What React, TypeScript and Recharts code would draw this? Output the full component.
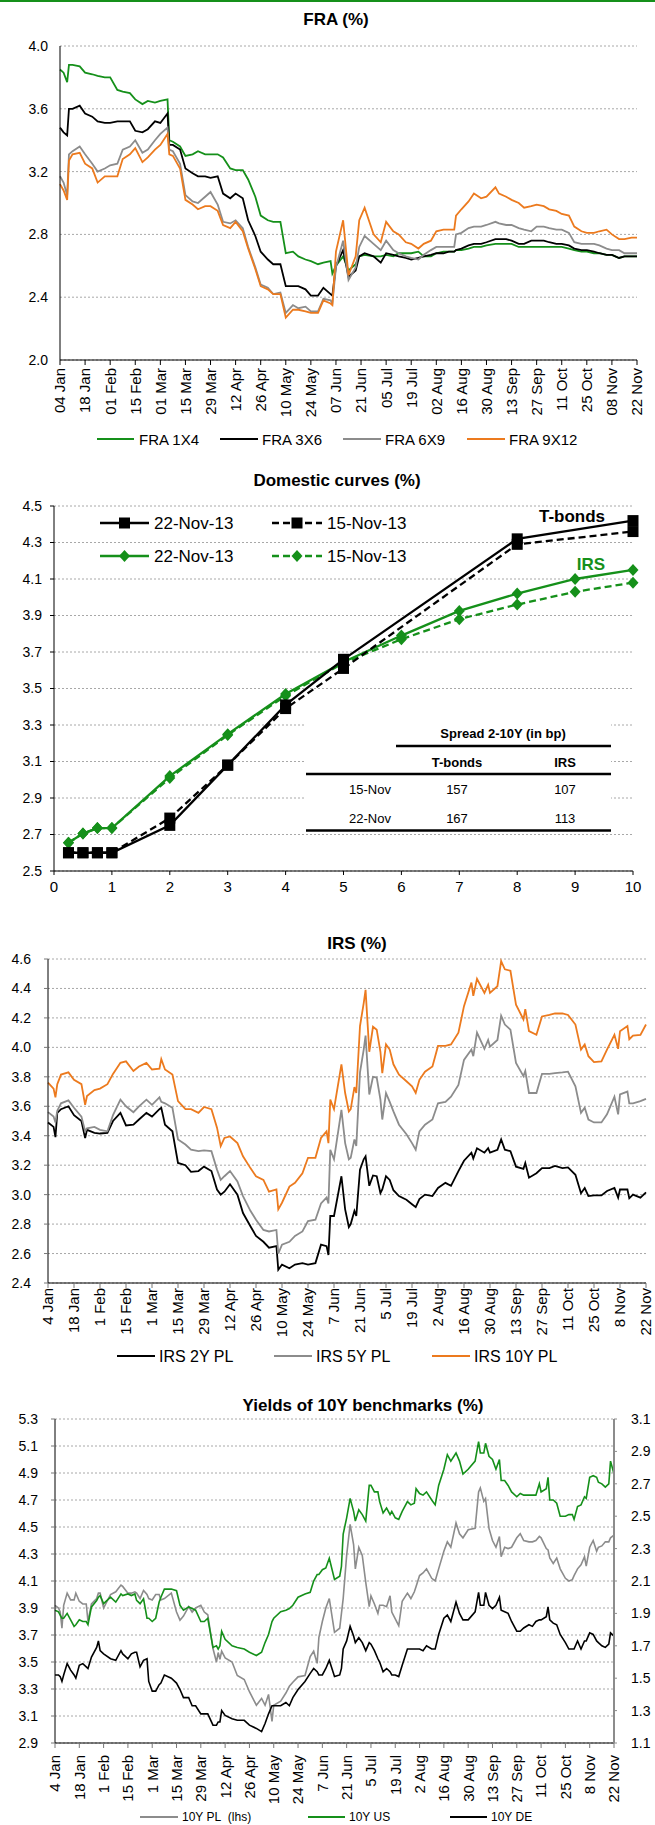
import React from "react";
import { LineChart, Line, XAxis, YAxis, CartesianGrid } from "recharts";

const FONT = "'Liberation Sans', Arial, Helvetica, sans-serif";
const GREEN = "#15901a";
const ORANGE = "#ec7a1e";
const GREY = "#8c8c8c";
const BLACK = "#000000";
const GRID = "#a8a8a8";

// date labels, one every 14 days from 4 Jan 2013 (day 0) to 22 Nov (day 322)
const fraDateLabels = ["04 Jan", "18 Jan", "01 Feb", "15 Feb", "01 Mar", "15 Mar", "29 Mar", "12 Apr", "26 Apr", "10 May", "24 May", "07 Jun",
  "21 Jun", "05 Jul", "19 Jul", "02 Aug", "16 Aug", "30 Aug", "13 Sep", "27 Sep", "11 Oct", "25 Oct", "08 Nov", "22 Nov"];
const dateLabels = ["4 Jan", "18 Jan", "1 Feb", "15 Feb", "1 Mar", "15 Mar", "29 Mar", "12 Apr", "26 Apr", "10 May", "24 May", "7 Jun",
  "21 Jun", "5 Jul", "19 Jul", "2 Aug", "16 Aug", "30 Aug", "13 Sep", "27 Sep", "11 Oct", "25 Oct", "8 Nov", "22 Nov"];
const dateTicks = dateLabels.map((_, i) => i * 14);

// ---- FRA (%) ----
const fraTicks = [2.0, 2.4, 2.8, 3.2, 3.6, 4.0];
const fraDays = [
  0, 2, 4, 5, 7, 11, 14, 18, 21, 25,
  28, 32, 35, 39, 42, 46, 49, 53, 56, 60,
  61, 63, 67, 70, 74, 77, 81, 84, 88, 91,
  95, 98, 102, 105, 109, 112, 116, 119, 123, 126,
  130, 133, 137, 140, 144, 147, 151, 152, 154, 158,
  161, 165, 167, 170, 175, 179, 182, 186, 189, 193,
  196, 200, 203, 207, 210, 214, 217, 220, 221, 224,
  228, 231, 235, 238, 243, 245, 249, 252, 256, 259,
  263, 266, 270, 273, 277, 280, 284, 287, 291, 294,
  298, 301, 305, 308, 312, 315, 319, 322];
const fra1x4 = [
  3.85, 3.83, 3.77, 3.88, 3.88, 3.87, 3.83, 3.82, 3.81, 3.80,
  3.80, 3.72, 3.71, 3.70, 3.66, 3.63, 3.65, 3.64, 3.65, 3.66,
  3.40, 3.39, 3.36, 3.30, 3.31, 3.33, 3.31, 3.31, 3.31, 3.29,
  3.22, 3.21, 3.21, 3.15, 3.04, 2.92, 2.89, 2.88, 2.88, 2.68,
  2.69, 2.66, 2.64, 2.63, 2.61, 2.62, 2.63, 2.55, 2.60, 2.66,
  2.57, 2.61, 2.66, 2.67, 2.66, 2.66, 2.67, 2.66, 2.68, 2.68,
  2.68, 2.69, 2.66, 2.66, 2.68, 2.69, 2.69, 2.69, 2.70, 2.70,
  2.71, 2.72, 2.72, 2.73, 2.74, 2.74, 2.74, 2.74, 2.72, 2.72,
  2.72, 2.72, 2.72, 2.72, 2.72, 2.72, 2.71, 2.70, 2.69, 2.69,
  2.68, 2.68, 2.67, 2.67, 2.65, 2.66, 2.66, 2.66];
const fra3x6 = [
  3.48, 3.45, 3.43, 3.60, 3.60, 3.62, 3.57, 3.55, 3.52, 3.51,
  3.51, 3.52, 3.52, 3.52, 3.46, 3.45, 3.47, 3.52, 3.51, 3.57,
  3.37, 3.37, 3.34, 3.22, 3.19, 3.17, 3.17, 3.16, 3.17, 3.06,
  3.03, 3.06, 3.03, 2.89, 2.79, 2.69, 2.64, 2.61, 2.61, 2.47,
  2.47, 2.47, 2.45, 2.41, 2.41, 2.46, 2.42, 2.41, 2.60, 2.70,
  2.53, 2.57, 2.66, 2.68, 2.66, 2.62, 2.68, 2.67, 2.66, 2.65,
  2.64, 2.65, 2.66, 2.67, 2.68, 2.68, 2.69, 2.69, 2.70, 2.71,
  2.73, 2.74, 2.74, 2.75, 2.77, 2.77, 2.77, 2.76, 2.74, 2.74,
  2.76, 2.76, 2.76, 2.75, 2.74, 2.74, 2.73, 2.71, 2.70, 2.70,
  2.69, 2.68, 2.67, 2.67, 2.65, 2.66, 2.66, 2.66];
const fra6x9 = [
  3.17, 3.13, 3.05, 3.31, 3.33, 3.36, 3.31, 3.25, 3.20, 3.22,
  3.24, 3.25, 3.34, 3.36, 3.40, 3.32, 3.34, 3.40, 3.44, 3.48,
  3.34, 3.33, 3.25, 3.05, 3.01, 3.00, 3.04, 3.07, 2.99, 2.88,
  2.87, 2.89, 2.84, 2.72, 2.59, 2.48, 2.46, 2.42, 2.43, 2.30,
  2.35, 2.33, 2.34, 2.31, 2.31, 2.39, 2.38, 2.36, 2.59, 2.76,
  2.51, 2.59, 2.72, 2.79, 2.74, 2.70, 2.76, 2.70, 2.68, 2.66,
  2.65, 2.64, 2.67, 2.70, 2.72, 2.72, 2.72, 2.72, 2.80, 2.81,
  2.84, 2.85, 2.85, 2.86, 2.88, 2.87, 2.86, 2.86, 2.84, 2.83,
  2.82, 2.85, 2.85, 2.84, 2.83, 2.83, 2.81, 2.75, 2.74, 2.74,
  2.74, 2.73, 2.71, 2.70, 2.70, 2.68, 2.68, 2.68];
const fra9x12 = [
  3.12, 3.08, 3.02, 3.27, 3.31, 3.32, 3.25, 3.22, 3.13, 3.17,
  3.17, 3.17, 3.28, 3.31, 3.35, 3.26, 3.29, 3.34, 3.37, 3.44,
  3.31, 3.30, 3.22, 3.02, 2.99, 2.96, 2.98, 2.98, 2.95, 2.86,
  2.84, 2.88, 2.82, 2.71, 2.58, 2.47, 2.45, 2.42, 2.42, 2.27,
  2.32, 2.32, 2.31, 2.30, 2.30, 2.38, 2.36, 2.35, 2.69, 2.89,
  2.54, 2.66, 2.89, 2.97, 2.80, 2.75, 2.88, 2.82, 2.80, 2.75,
  2.74, 2.71, 2.74, 2.76, 2.82, 2.83, 2.83, 2.83, 2.92, 2.96,
  3.01, 3.06, 3.03, 3.04, 3.10, 3.06, 3.04, 3.02, 3.00, 2.97,
  2.98, 2.99, 2.98, 2.96, 2.95, 2.93, 2.92, 2.85, 2.82, 2.81,
  2.81, 2.82, 2.83, 2.80, 2.77, 2.77, 2.78, 2.78];

// ---- Domestic curves (%) ----
const curveXTicks = [0, 1, 2, 3, 4, 5, 6, 7, 8, 9, 10];
const curveYTicks = [2.5, 2.7, 2.9, 3.1, 3.3, 3.5, 3.7, 3.9, 4.1, 4.3, 4.5];
const bondTenors = [0.25, 0.5, 0.75, 1, 2, 3, 4, 5, 8, 10];
const bonds22Nov = [2.60, 2.60, 2.60, 2.60, 2.75, 3.08, 3.41, 3.66, 4.32, 4.42];
const bonds15Nov = [2.60, 2.60, 2.60, 2.60, 2.79, 3.08, 3.39, 3.61, 4.29, 4.36];
const irsTenors = [0.25, 0.5, 0.75, 1, 2, 3, 4, 5, 6, 7, 8, 9, 10];
const irs22Nov = [2.655, 2.705, 2.735, 2.735, 3.02, 3.25, 3.47, 3.645, 3.79, 3.925, 4.02, 4.10, 4.15];
const irs15Nov = [2.655, 2.705, 2.735, 2.735, 3.01, 3.245, 3.46, 3.64, 3.77, 3.88, 3.96, 4.03, 4.08];
const spreadDates = ["15-Nov", "22-Nov"];
const spreadBonds = [157, 167];
const spreadIrs = [107, 113];

// ---- IRS (%) ----
const irsTicks = [2.4, 2.6, 2.8, 3.0, 3.2, 3.4, 3.6, 3.8, 4.0, 4.2, 4.4, 4.6];
const irsDays = [
  0, 3, 4, 5, 7, 11, 14, 18, 20, 21,
  25, 28, 32, 35, 39, 42, 46, 49, 53, 56,
  60, 61, 63, 67, 70, 74, 77, 81, 84, 88,
  91, 93, 95, 98, 102, 105, 109, 112, 116, 119,
  123, 124, 126, 130, 133, 137, 140, 144, 147, 150,
  151, 152, 154, 158, 160, 162, 163, 165, 166, 168,
  170, 171, 173, 175, 177, 179, 180, 182, 184, 186,
  189, 193, 196, 198, 200, 203, 207, 210, 214, 217,
  221, 224, 228, 229, 231, 235, 237, 238, 242, 244,
  246, 249, 252, 256, 257, 259, 263, 266, 270, 273,
  277, 280, 284, 287, 289, 291, 294, 298, 301, 305,
  307, 308, 312, 313, 315, 319, 322];
const irs10y = [
  3.76, 3.72, 3.66, 3.75, 3.815, 3.83, 3.78, 3.75, 3.61, 3.67,
  3.71, 3.72, 3.75, 3.82, 3.895, 3.905, 3.84, 3.87, 3.895, 3.85,
  3.855, 3.92, 3.85, 3.815, 3.635, 3.58, 3.58, 3.555, 3.595, 3.58,
  3.455, 3.33, 3.385, 3.395, 3.35, 3.26, 3.18, 3.125, 3.10, 3.02,
  3.035, 2.90, 2.945, 3.055, 3.08, 3.145, 3.25, 3.25, 3.385, 3.43,
  3.35, 3.645, 3.58, 3.885, 3.69, 3.565, 3.58, 3.73, 3.69, 4.145,
  4.30, 4.39, 3.97, 4.14, 4.12, 3.97, 3.825, 4.02, 3.985, 3.885,
  3.815, 3.77, 3.735, 3.69, 3.78, 3.835, 3.87, 4.01, 4.01, 4.02,
  4.10, 4.28, 4.44, 4.35, 4.465, 4.37, 4.425, 4.37, 4.415, 4.585,
  4.53, 4.52, 4.29, 4.19, 4.26, 4.11, 4.085, 4.21, 4.22, 4.23,
  4.23, 4.22, 4.155, 3.985, 4.02, 3.94, 3.90, 3.905, 3.985, 4.085,
  3.99, 4.11, 4.145, 4.055, 4.08, 4.085, 4.155];
const irs5y = [
  3.56, 3.53, 3.49, 3.57, 3.62, 3.64, 3.59, 3.53, 3.43, 3.45,
  3.46, 3.44, 3.43, 3.54, 3.645, 3.60, 3.56, 3.60, 3.645, 3.61,
  3.66, 3.63, 3.62, 3.59, 3.375, 3.34, 3.305, 3.295, 3.30, 3.295,
  3.17, 3.10, 3.125, 3.16, 3.09, 2.99, 2.89, 2.83, 2.76, 2.75,
  2.76, 2.60, 2.66, 2.68, 2.72, 2.75, 2.82, 2.83, 2.94, 2.98,
  2.94, 3.305, 3.24, 3.575, 3.35, 3.24, 3.25, 3.375, 3.33, 3.83,
  3.985, 4.08, 3.68, 3.80, 3.795, 3.645, 3.51, 3.69, 3.63, 3.565,
  3.475, 3.41, 3.35, 3.305, 3.43, 3.475, 3.51, 3.62, 3.63, 3.665,
  3.745, 3.915, 3.985, 3.94, 4.10, 3.99, 4.05, 4.005, 4.05, 4.215,
  4.155, 4.12, 3.895, 3.805, 3.84, 3.69, 3.69, 3.82, 3.82, 3.825,
  3.83, 3.835, 3.735, 3.555, 3.59, 3.51, 3.49, 3.49, 3.545, 3.665,
  3.545, 3.68, 3.70, 3.62, 3.62, 3.635, 3.65];
const irs2y = [
  3.49, 3.46, 3.39, 3.555, 3.58, 3.60, 3.54, 3.50, 3.385, 3.44,
  3.42, 3.415, 3.42, 3.50, 3.555, 3.47, 3.475, 3.51, 3.555, 3.53,
  3.58, 3.59, 3.475, 3.43, 3.215, 3.20, 3.155, 3.16, 3.19, 3.16,
  3.035, 3.00, 3.02, 3.07, 3.00, 2.875, 2.785, 2.72, 2.68, 2.64,
  2.65, 2.49, 2.525, 2.50, 2.525, 2.535, 2.525, 2.535, 2.66, 2.65,
  2.59, 2.855, 2.855, 3.125, 2.90, 2.78, 2.80, 2.89, 2.855, 3.17,
  3.24, 3.26, 3.06, 3.13, 3.125, 3.01, 3.035, 3.125, 3.10, 3.03,
  2.99, 2.965, 2.935, 2.915, 2.97, 3.00, 2.99, 3.045, 3.08, 3.06,
  3.16, 3.23, 3.285, 3.245, 3.315, 3.285, 3.315, 3.285, 3.305, 3.375,
  3.305, 3.295, 3.19, 3.175, 3.215, 3.115, 3.145, 3.18, 3.18, 3.195,
  3.18, 3.185, 3.135, 3.01, 3.045, 2.99, 2.995, 2.995, 3.025, 3.045,
  2.98, 3.035, 3.035, 2.975, 3.00, 2.98, 3.015];

// ---- Yields of 10Y benchmarks (%) ----
const yldLeftTicks = [2.9, 3.1, 3.3, 3.5, 3.7, 3.9, 4.1, 4.3, 4.5, 4.7, 4.9, 5.1, 5.3];
const yldRightTicks = [1.1, 1.3, 1.5, 1.7, 1.9, 2.1, 2.3, 2.5, 2.7, 2.9, 3.1];
const yldDays = [
  0, 2, 3, 4, 5, 7, 9, 11, 12, 14,
  16, 18, 19, 21, 24, 25, 26, 28, 32, 35,
  38, 39, 42, 44, 46, 47, 49, 51, 53, 54,
  56, 58, 60, 61, 63, 67, 70, 72, 74, 77,
  79, 81, 84, 86, 88, 91, 93, 94, 95, 96,
  98, 102, 105, 109, 112, 116, 119, 121, 123, 125,
  126, 130, 133, 135, 137, 140, 144, 147, 149, 151,
  152, 154, 156, 158, 161, 164, 165, 166, 168, 170,
  172, 173, 175, 177, 179, 181, 182, 184, 186, 187,
  189, 191, 193, 194, 196, 198, 200, 203, 205, 207,
  208, 210, 212, 214, 217, 219, 221, 224, 226, 228,
  231, 233, 235, 238, 242, 244, 245, 247, 248, 250,
  252, 254, 256, 257, 259, 261, 263, 266, 268, 270,
  273, 275, 277, 279, 280, 283, 284, 285, 287, 289,
  291, 294, 296, 298, 299, 301, 303, 305, 306, 308,
  310, 312, 313, 315, 317, 319, 320, 322];
const pl10y = [
  3.92, 3.90, 3.87, 3.75, 3.92, 4.01, 3.96, 3.96, 4.01, 3.95,
  3.93, 3.93, 3.80, 3.93, 3.97, 4.01, 4.01, 3.90, 4.00, 4.02,
  4.07, 4.06, 4.01, 4.01, 4.02, 4.01, 3.97, 4.03, 4.00, 3.97,
  3.96, 4.00, 4.00, 3.96, 3.97, 4.01, 3.87, 3.81, 3.84, 3.91,
  3.87, 3.90, 3.92, 3.87, 3.85, 3.60, 3.50, 3.57, 3.52, 3.58,
  3.53, 3.50, 3.40, 3.37, 3.28, 3.18, 3.23, 3.18, 3.26, 3.06,
  3.18, 3.21, 3.27, 3.32, 3.35, 3.39, 3.40, 3.54, 3.58, 3.49,
  3.68, 3.80, 3.90, 3.97, 3.72, 3.75, 3.86, 3.97, 4.29, 4.52,
  4.37, 4.19, 4.35, 4.29, 4.09, 3.91, 3.99, 3.93, 3.86, 3.92,
  3.92, 3.91, 3.99, 3.87, 3.82, 3.77, 3.95, 4.01, 3.97, 4.02,
  4.06, 4.14, 4.16, 4.19, 4.12, 4.10, 4.19, 4.32, 4.39, 4.35,
  4.53, 4.45, 4.42, 4.48, 4.49, 4.76, 4.79, 4.69, 4.71, 4.49,
  4.40, 4.35, 4.43, 4.28, 4.35, 4.34, 4.35, 4.42, 4.45, 4.40,
  4.39, 4.39, 4.40, 4.43, 4.42, 4.34, 4.33, 4.27, 4.23, 4.27,
  4.19, 4.12, 4.10, 4.11, 4.14, 4.19, 4.22, 4.28, 4.21, 4.35,
  4.40, 4.32, 4.35, 4.36, 4.39, 4.39, 4.42, 4.44];
const us10y = [
  1.92, 1.91, 1.89, 1.87, 1.87, 1.90, 1.86, 1.82, 1.83, 1.86,
  1.85, 1.85, 1.83, 1.94, 1.98, 2.00, 2.01, 1.96, 2.00, 1.97,
  2.02, 2.01, 2.02, 2.01, 2.02, 1.98, 1.96, 1.99, 1.87, 1.87,
  1.85, 1.87, 1.97, 2.00, 2.05, 2.05, 2.04, 1.95, 1.92, 1.94,
  1.93, 1.92, 1.85, 1.85, 1.87, 1.69, 1.70, 1.68, 1.70, 1.79,
  1.74, 1.70, 1.69, 1.68, 1.66, 1.64, 1.66, 1.72, 1.77, 1.85,
  1.87, 1.91, 1.92, 1.93, 1.95, 2.00, 2.02, 2.03, 2.10, 2.14,
  2.14, 2.17, 2.18, 2.24, 2.11, 2.13, 2.19, 2.39, 2.49, 2.61,
  2.53, 2.47, 2.54, 2.51, 2.47, 2.69, 2.69, 2.65, 2.65, 2.59,
  2.52, 2.55, 2.51, 2.53, 2.49, 2.48, 2.53, 2.59, 2.57, 2.58,
  2.67, 2.64, 2.63, 2.65, 2.60, 2.57, 2.69, 2.79, 2.88, 2.84,
  2.89, 2.84, 2.76, 2.79, 2.84, 2.96, 2.89, 2.89, 2.95, 2.87,
  2.85, 2.79, 2.85, 2.72, 2.72, 2.69, 2.65, 2.62, 2.64, 2.63,
  2.63, 2.63, 2.63, 2.70, 2.65, 2.67, 2.74, 2.60, 2.60, 2.58,
  2.50, 2.50, 2.51, 2.51, 2.48, 2.56, 2.57, 2.62, 2.61, 2.74,
  2.75, 2.74, 2.71, 2.70, 2.68, 2.70, 2.84, 2.76];
const de10y = [
  1.52, 1.52, 1.51, 1.48, 1.52, 1.59, 1.55, 1.52, 1.50, 1.58,
  1.59, 1.57, 1.56, 1.63, 1.69, 1.73, 1.67, 1.65, 1.62, 1.61,
  1.67, 1.65, 1.62, 1.65, 1.66, 1.66, 1.57, 1.61, 1.62, 1.48,
  1.42, 1.42, 1.46, 1.47, 1.52, 1.50, 1.47, 1.43, 1.38, 1.38,
  1.33, 1.33, 1.28, 1.28, 1.28, 1.21, 1.21, 1.23, 1.23, 1.30,
  1.27, 1.25, 1.24, 1.24, 1.21, 1.19, 1.17, 1.22, 1.28, 1.33,
  1.33, 1.33, 1.35, 1.33, 1.38, 1.43, 1.48, 1.53, 1.56, 1.54,
  1.52, 1.52, 1.56, 1.61, 1.51, 1.52, 1.56, 1.68, 1.73, 1.82,
  1.76, 1.72, 1.75, 1.72, 1.67, 1.72, 1.71, 1.67, 1.62, 1.60,
  1.54, 1.56, 1.54, 1.52, 1.52, 1.51, 1.58, 1.68, 1.68, 1.68,
  1.68, 1.68, 1.67, 1.70, 1.68, 1.68, 1.77, 1.87, 1.89, 1.85,
  1.97, 1.90, 1.86, 1.86, 1.91, 2.03, 1.95, 1.95, 2.03, 1.95,
  1.93, 1.95, 2.00, 1.92, 1.91, 1.90, 1.85, 1.79, 1.79, 1.81,
  1.83, 1.82, 1.85, 1.86, 1.86, 1.88, 1.94, 1.86, 1.84, 1.83,
  1.77, 1.72, 1.68, 1.68, 1.68, 1.73, 1.68, 1.73, 1.73, 1.78,
  1.77, 1.73, 1.72, 1.70, 1.69, 1.71, 1.78, 1.76];

const fraRows = fraDays.map((d, i) => ({ d, f14: fra1x4[i], f36: fra3x6[i], f69: fra6x9[i], f912: fra9x12[i] }));
const irsRows = irsDays.map((d, i) => ({ d, s2: irs2y[i], s5: irs5y[i], s10: irs10y[i] }));
const yldRows = yldDays.map((d, i) => ({ d, pl: pl10y[i], us: us10y[i], de: de10y[i] }));
const bonds22Rows = bondTenors.map((x, i) => ({ x, tb22: bonds22Nov[i] }));
const bonds15Rows = bondTenors.map((x, i) => ({ x, tb15: bonds15Nov[i] }));
const irs22Rows = irsTenors.map((x, i) => ({ x, ir22: irs22Nov[i] }));
const irs15Rows = irsTenors.map((x, i) => ({ x, ir15: irs15Nov[i] }));

const fmt1 = (v: number) => v.toFixed(1);
const yTick = { fontSize: 14, fill: "#000", fontFamily: FONT };

const makeDateTick = (labels: string[]) => (props: any) => {
  const { x, y, payload } = props;
  const label = labels[Math.round(payload.value / 14)];
  return (
    <text x={x} y={y} transform={`rotate(-90 ${x} ${y})`} textAnchor="end" dy="0.36em"
      fontSize={15} fontFamily={FONT} fill="#000">{label}</text>
  );
};

const square = (color: string) => (p: any) =>
  <rect key={`sq-${p.index}`} x={p.cx - 5.5} y={p.cy - 5.5} width={11} height={11} fill={color} />;
const diamond = (color: string) => (p: any) =>
  <polygon key={`dm-${p.index}`} points={`${p.cx},${p.cy - 6} ${p.cx + 5.5},${p.cy} ${p.cx},${p.cy + 6} ${p.cx - 5.5},${p.cy}`} fill={color} />;

const FraChart = () => (
  <div style={{ position: "absolute", left: 0, top: 0 }}>
    <LineChart width={655} height={430} data={fraRows} margin={{ top: 46, right: 18, bottom: 10, left: 0 }}>
      <CartesianGrid vertical={false} stroke={GRID} strokeDasharray="2 2" />
      <XAxis dataKey="d" type="number" domain={[0, 322]} ticks={dateTicks} interval={0} height={60}
        tickSize={5} tickMargin={3} tick={makeDateTick(fraDateLabels)} axisLine={{ stroke: BLACK }} tickLine={{ stroke: BLACK }} />
      <YAxis type="number" domain={[2, 4]} ticks={fraTicks} width={60} tickLine={false} tickSize={6} tickMargin={6}
        axisLine={{ stroke: BLACK }} tick={yTick} tickFormatter={fmt1} />
      <Line dataKey="f14" stroke={GREEN} strokeWidth={1.8} dot={false} activeDot={false} isAnimationActive={false} />
      <Line dataKey="f36" stroke={BLACK} strokeWidth={1.8} dot={false} activeDot={false} isAnimationActive={false} />
      <Line dataKey="f69" stroke={GREY} strokeWidth={1.8} dot={false} activeDot={false} isAnimationActive={false} />
      <Line dataKey="f912" stroke={ORANGE} strokeWidth={1.8} dot={false} activeDot={false} isAnimationActive={false} />
    </LineChart>
  </div>
);

const CurveChart = () => (
  <div style={{ position: "absolute", left: 0, top: 460 }}>
    <LineChart width={655} height={440} margin={{ top: 46, right: 22, bottom: 0, left: 0 }}>
      <CartesianGrid vertical={false} stroke={GRID} strokeDasharray="2 2" />
      <XAxis dataKey="x" type="number" domain={[0, 10]} ticks={curveXTicks} interval={0} height={29}
        tickSize={4} tickMargin={6} tick={{ fontSize: 15, fill: "#000", fontFamily: FONT }}
        axisLine={{ stroke: BLACK }} tickLine={{ stroke: BLACK }} allowDuplicatedCategory={false} />
      <YAxis type="number" domain={[2.5, 4.5]} ticks={curveYTicks} width={54} tickSize={4} tickMargin={8}
        axisLine={{ stroke: BLACK }} tickLine={{ stroke: BLACK }} tick={yTick} tickFormatter={fmt1} />
      <Line data={irs15Rows} dataKey="ir15" stroke={GREEN} strokeWidth={2.3} strokeDasharray="7 4"
        dot={diamond(GREEN)} activeDot={false} isAnimationActive={false} />
      <Line data={irs22Rows} dataKey="ir22" stroke={GREEN} strokeWidth={2.3}
        dot={diamond(GREEN)} activeDot={false} isAnimationActive={false} />
      <Line data={bonds15Rows} dataKey="tb15" stroke={BLACK} strokeWidth={2.3} strokeDasharray="7 4"
        dot={square(BLACK)} activeDot={false} isAnimationActive={false} />
      <Line data={bonds22Rows} dataKey="tb22" stroke={BLACK} strokeWidth={2.3}
        dot={square(BLACK)} activeDot={false} isAnimationActive={false} />
    </LineChart>
  </div>
);

const IrsChart = () => (
  <div style={{ position: "absolute", left: 0, top: 920 }}>
    <LineChart width={655} height={430} data={irsRows} margin={{ top: 39, right: 9, bottom: 10, left: 0 }}>
      <CartesianGrid vertical={false} stroke={GRID} strokeDasharray="2 2" />
      <XAxis dataKey="d" type="number" domain={[0, 322]} ticks={dateTicks} interval={0} height={57}
        tickSize={5} tickMargin={0} tick={makeDateTick(dateLabels)} axisLine={{ stroke: BLACK }} tickLine={{ stroke: "#777" }} />
      <YAxis type="number" domain={[2.4, 4.6]} ticks={irsTicks} width={48} tickSize={4} tickMargin={13}
        axisLine={{ stroke: BLACK }} tickLine={{ stroke: "#777" }} tick={yTick} tickFormatter={fmt1} />
      <Line dataKey="s2" stroke={BLACK} strokeWidth={1.8} dot={false} activeDot={false} isAnimationActive={false} />
      <Line dataKey="s5" stroke={GREY} strokeWidth={1.8} dot={false} activeDot={false} isAnimationActive={false} />
      <Line dataKey="s10" stroke={ORANGE} strokeWidth={1.8} dot={false} activeDot={false} isAnimationActive={false} />
    </LineChart>
  </div>
);

const YieldChart = () => (
  <div style={{ position: "absolute", left: 0, top: 1380 }}>
    <LineChart width={655} height={440} data={yldRows} margin={{ top: 39, right: 0, bottom: 20, left: 0 }}>
      <CartesianGrid vertical={false} yAxisId="left" stroke={GRID} strokeDasharray="2 2" />
      <XAxis dataKey="d" type="number" domain={[0, 322]} ticks={dateTicks} interval={0} height={57}
        tickSize={5} tickMargin={7} tick={makeDateTick(dateLabels)} axisLine={{ stroke: BLACK }} tickLine={{ stroke: "#777" }} />
      <YAxis yAxisId="left" type="number" domain={[2.9, 5.3]} ticks={yldLeftTicks} width={55} tickSize={4} tickMargin={13}
        axisLine={{ stroke: BLACK }} tickLine={{ stroke: "#777" }} tick={yTick} tickFormatter={fmt1} />
      <YAxis yAxisId="right" orientation="right" type="number" domain={[1.1, 3.1]} ticks={yldRightTicks} width={41}
        tickSize={3} tickMargin={14} axisLine={{ stroke: GREY, strokeWidth: 2 }} tickLine={{ stroke: GREY }}
        tick={{ ...yTick, textAnchor: "start" }} tickFormatter={fmt1} />
      <Line yAxisId="left" dataKey="pl" stroke={GREY} strokeWidth={1.6} dot={false} activeDot={false} isAnimationActive={false} />
      <Line yAxisId="right" dataKey="us" stroke={GREEN} strokeWidth={1.6} dot={false} activeDot={false} isAnimationActive={false} />
      <Line yAxisId="right" dataKey="de" stroke={BLACK} strokeWidth={1.6} dot={false} activeDot={false} isAnimationActive={false} />
    </LineChart>
  </div>
);

type Item = { color: string; label: string; x1: number; x2: number; tx: number };

const LegendRow = ({ y, items, fontSize }: { y: number; items: Item[]; fontSize: number }) => (
  <g>
    {items.map((it) => (
      <g key={it.label}>
        <line x1={it.x1} x2={it.x2} y1={y} y2={y} stroke={it.color} strokeWidth={2.2} />
        <text x={it.tx} y={y} dominantBaseline="central" fontSize={fontSize} fill="#000">{it.label}</text>
      </g>
    ))}
  </g>
);

const Title = ({ x, y, text }: { x: number; y: number; text: string }) => (
  <text x={x} y={y} textAnchor="middle" dominantBaseline="central" fontSize={17} fontWeight="bold" fill="#000">{text}</text>
);

const CurveLegend = ({ x1, x2, y, dashed, color, shape, label }:
  { x1: number; x2: number; y: number; dashed: boolean; color: string; shape: "sq" | "dm"; label: string }) => {
  const cx = (x1 + x2) / 2;
  return (
    <g>
      <line x1={x1} x2={x2} y1={y} y2={y} stroke={color} strokeWidth={2.5} strokeDasharray={dashed ? "7 4" : undefined} />
      {shape === "sq"
        ? <rect x={cx - 5.5} y={y - 5.5} width={11} height={11} fill={color} />
        : <polygon points={`${cx},${y - 6} ${cx + 5.5},${y} ${cx},${y + 6} ${cx - 5.5},${y}`} fill={color} />}
      <text x={x2 + 5} y={y} dominantBaseline="central" fontSize={17} fill="#000">{label}</text>
    </g>
  );
};

const Overlay = () => (
  <svg width={655} height={1825} style={{ position: "absolute", left: 0, top: 0, pointerEvents: "none" }} fontFamily={FONT}>
    <rect x={0} y={0} width={655} height={2} fill={GREEN} />
    <Title x={336} y={19} text="FRA (%)" />
    <LegendRow y={439} fontSize={15} items={[
      { color: GREEN, label: "FRA 1X4", x1: 97, x2: 134, tx: 139 },
      { color: BLACK, label: "FRA 3X6", x1: 220, x2: 258, tx: 262 },
      { color: GREY, label: "FRA 6X9", x1: 343, x2: 381, tx: 385 },
      { color: ORANGE, label: "FRA 9X12", x1: 467, x2: 505, tx: 509 },
    ]} />

    <Title x={337} y={480} text="Domestic curves (%)" />
    <CurveLegend x1={100} x2={149} y={523} dashed={false} color={BLACK} shape="sq" label="22-Nov-13" />
    <CurveLegend x1={272} x2={322} y={523} dashed color={BLACK} shape="sq" label="15-Nov-13" />
    <CurveLegend x1={100} x2={149} y={556} dashed={false} color={GREEN} shape="dm" label="22-Nov-13" />
    <CurveLegend x1={272} x2={322} y={556} dashed color={GREEN} shape="dm" label="15-Nov-13" />
    <text x={572} y={516} textAnchor="middle" dominantBaseline="central" fontSize={17} fontWeight="bold" fill={BLACK}>T-bonds</text>
    <text x={591} y={564} textAnchor="middle" dominantBaseline="central" fontSize={17} fontWeight="bold" fill={GREEN}>IRS</text>
    <rect x={306} y={719} width={305} height={110} fill="#fff" />
    <text x={503} y={733} textAnchor="middle" dominantBaseline="central" fontSize={13} fontWeight="bold">Spread 2-10Y (in bp)</text>
    <line x1={396} x2={611} y1={746} y2={746} stroke="#000" strokeWidth={2.5} />
    <text x={457} y={762} textAnchor="middle" dominantBaseline="central" fontSize={13} fontWeight="bold">T-bonds</text>
    <text x={565} y={762} textAnchor="middle" dominantBaseline="central" fontSize={13} fontWeight="bold">IRS</text>
    <line x1={306} x2={611} y1={774} y2={774} stroke="#000" strokeWidth={2.5} />
    {spreadDates.map((d, i) => (
      <g key={d}>
        <text x={370} y={789 + i * 29} textAnchor="middle" dominantBaseline="central" fontSize={13}>{d}</text>
        <text x={457} y={789 + i * 29} textAnchor="middle" dominantBaseline="central" fontSize={13}>{spreadBonds[i]}</text>
        <text x={565} y={789 + i * 29} textAnchor="middle" dominantBaseline="central" fontSize={13}>{spreadIrs[i]}</text>
      </g>
    ))}
    <line x1={306} x2={611} y1={830.5} y2={830.5} stroke="#000" strokeWidth={2.5} />

    <Title x={357} y={943} text="IRS (%)" />
    <LegendRow y={1356} fontSize={16} items={[
      { color: BLACK, label: "IRS 2Y PL", x1: 117, x2: 155, tx: 159 },
      { color: GREY, label: "IRS 5Y PL", x1: 274, x2: 312, tx: 316 },
      { color: ORANGE, label: "IRS 10Y PL", x1: 432, x2: 470, tx: 474 },
    ]} />

    <Title x={363} y={1405} text="Yields of 10Y benchmarks (%)" />
    <LegendRow y={1817} fontSize={12} items={[
      { color: GREY, label: "10Y PL\u00a0 (lhs)", x1: 140, x2: 178, tx: 182 },
      { color: GREEN, label: "10Y US", x1: 308, x2: 345, tx: 349 },
      { color: BLACK, label: "10Y DE", x1: 450, x2: 487, tx: 491 },
    ]} />
  </svg>
);

export default function App() {
  return (
    <div style={{ position: "absolute", left: 0, top: 0, width: 655, height: 1825, overflow: "hidden", background: "#fff", fontFamily: FONT }}>
      <FraChart />
      <CurveChart />
      <IrsChart />
      <YieldChart />
      <Overlay />
    </div>
  );
}
